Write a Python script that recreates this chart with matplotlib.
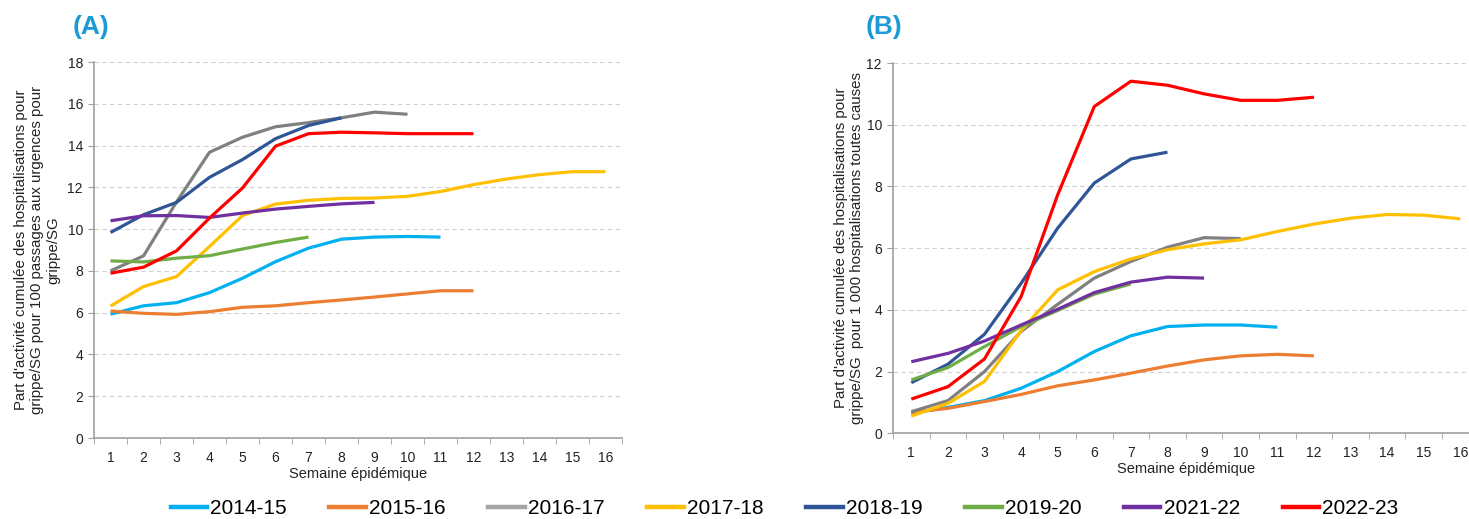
import numpy as np
import matplotlib
matplotlib.use('Agg')
import matplotlib.pyplot as plt
from matplotlib.lines import Line2D

plt.rcParams['font.family'] = ['Liberation Sans', 'DejaVu Sans']

# ====> data
seasons = ['2014-15', '2015-16', '2016-17', '2017-18', '2018-19', '2019-20', '2021-22', '2022-23']
colors = ['#00B0F0', '#ED7D31', '#808080', '#FFC000', '#2F5597', '#70AD47', '#7030A0', '#FF0000']
legend_colors = ['#00B0F0', '#ED7D31', '#A5A5A5', '#FFC000', '#2F5597', '#70AD47', '#7030A0', '#FF0000']
weeks = list(range(1, 17))

# panel A : per 100 ER visits for flu
a_1415 = [5.93, 6.33, 6.48, 6.96, 7.65, 8.44, 9.09, 9.52, 9.62, 9.65, 9.62]
a_1516 = [6.08, 5.97, 5.92, 6.05, 6.26, 6.33, 6.48, 6.61, 6.75, 6.9, 7.05, 7.05]
a_1617 = [8.0, 8.72, 11.3, 13.68, 14.4, 14.9, 15.1, 15.33, 15.6, 15.5]
a_1718 = [6.32, 7.25, 7.73, 9.17, 10.65, 11.2, 11.38, 11.47, 11.49, 11.57, 11.8, 12.13, 12.4, 12.61, 12.75, 12.75]
a_1819 = [9.84, 10.69, 11.28, 12.48, 13.33, 14.33, 14.96, 15.33]
a_1920 = [8.48, 8.43, 8.61, 8.73, 9.05, 9.36, 9.62]
a_2122 = [10.4, 10.64, 10.65, 10.56, 10.77, 10.96, 11.09, 11.21, 11.28]
a_2223 = [7.89, 8.18, 8.96, 10.53, 11.97, 13.97, 14.57, 14.64, 14.61, 14.57, 14.57, 14.57]

# panel B : per 1 000 hospitalisations all causes
b_1415 = [0.65, 0.84, 1.06, 1.46, 2.0, 2.65, 3.16, 3.46, 3.51, 3.51, 3.44]
b_1516 = [0.68, 0.81, 1.03, 1.26, 1.54, 1.73, 1.95, 2.18, 2.38, 2.51, 2.56, 2.51]
b_1617 = [0.7, 1.06, 2.0, 3.3, 4.18, 5.03, 5.57, 6.03, 6.34, 6.31]
b_1718 = [0.56, 0.97, 1.68, 3.33, 4.65, 5.24, 5.65, 5.95, 6.14, 6.27, 6.54, 6.78, 6.97, 7.09, 7.07, 6.95]
b_1819 = [1.64, 2.24, 3.21, 4.86, 6.65, 8.11, 8.89, 9.11]
b_1920 = [1.73, 2.13, 2.81, 3.46, 3.98, 4.51, 4.84]
b_2122 = [2.32, 2.59, 2.99, 3.51, 4.02, 4.56, 4.9, 5.06, 5.03]
b_2223 = [1.11, 1.51, 2.41, 4.43, 7.73, 10.59, 11.41, 11.28, 11.0, 10.79, 10.79, 10.89]

series_a = [a_1415, a_1516, a_1617, a_1718, a_1819, a_1920, a_2122, a_2223]
series_b = [b_1415, b_1516, b_1617, b_1718, b_1819, b_1920, b_2122, b_2223]

fig = plt.figure(figsize=(14.69, 5.19), dpi=100)
ax_a = fig.add_axes([0.064, 0.156, 0.3594, 0.7245])
ax_b = fig.add_axes([0.6079, 0.1651, 0.3986, 0.7135])


def style_axis(ax, ymax, ystep, ylabel, pad):
    ax.set_xlim(0.5, 16.5)
    ax.set_ylim(0, ymax)
    ax.set_yticks(np.arange(0, ymax + 0.01, ystep))
    ax.set_xticks(weeks)
    ax.set_xticks(np.arange(0.5, 16.6, 1), minor=True)
    ax.tick_params(axis='x', which='major', length=0, labelsize=10, pad=9, labelcolor='#222222')
    ax.tick_params(axis='x', which='minor', length=4, color='#A0A0A0', direction='out')
    ax.tick_params(axis='y', length=4, color='#A0A0A0', labelsize=10, pad=4, labelcolor='#222222')
    for s in ['top', 'right']:
        ax.spines[s].set_visible(False)
    for s in ['left', 'bottom']:
        ax.spines[s].set_color('#A0A0A0')
        ax.spines[s].set_linewidth(1.2)
    ax.grid(axis='y', color='#D0D0D0', linestyle=(0, (4, 3)), linewidth=0.8)
    ax.set_axisbelow(True)
    ax.set_xlabel('Semaine épidémique', fontsize=10.5, labelpad=1.5, color='#222222')
    ax.set_ylabel(ylabel, fontsize=10.8, linespacing=1.22, labelpad=pad, color='#222222')


for vals, c in zip(series_a, colors):
    ax_a.plot(weeks[:len(vals)], vals, color=c, lw=2.3, solid_capstyle='butt')
for vals, c in zip(series_b, colors):
    ax_b.plot(weeks[:len(vals)], vals, color=c, lw=2.3, solid_capstyle='butt')

style_axis(ax_a, 18, 2, "Part d'activité cumulée des hospitalisations pour\n"
                         "grippe/SG pour 100 passages aux urgences pour\ngrippe/SG", 5)
style_axis(ax_b, 12, 2, "Part d'activité cumulée des hospitalisations pour\n"
                         "grippe/SG  pour 1 000 hospitalisations toutes causes", 1.5)

fig.text(0.0497, 0.948, '(A)', color='#1B9AD6', fontsize=19, fontweight='bold', va='center')
fig.text(0.5895, 0.948, '(B)', color='#1B9AD6', fontsize=19, fontweight='bold', va='center')

handles = [Line2D([0], [0], color=c, lw=3.2) for c in legend_colors]
fig.legend(handles, seasons, loc='center', bbox_to_anchor=(0.534, 0.02), ncol=8,
           frameon=False, fontsize=15, handlelength=1.75, handletextpad=0.15,
           columnspacing=2.05, borderpad=0)

plt.savefig('out.png', dpi=100)
plt.close()
